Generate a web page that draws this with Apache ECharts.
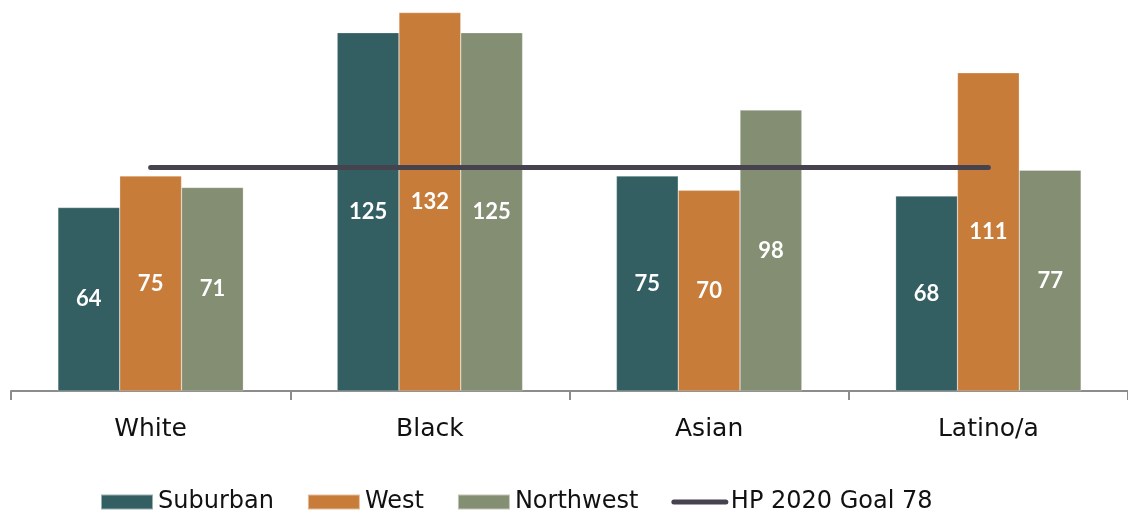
<!DOCTYPE html>
<html><head><meta charset="utf-8">
<script src="https://cdn.jsdelivr.net/npm/echarts@6/dist/echarts.min.js"></script>
<style>html,body{margin:0;padding:0;background:#fff}#c{width:1128px;height:516px}</style>
</head><body><div id="c"></div>
<script>
var categories = ['White', 'Black', 'Asian', 'Latino/a'];
var suburban = [64, 125, 75, 68];
var west = [75, 132, 70, 111];
var northwest = [71, 125, 98, 77];
var goal = [78, 78, 78, 78];
var seriesNames = ['Suburban', 'West', 'Northwest', 'HP 2020 Goal 78'];

var TEXTFONT = 'DejaVu Sans';
var LABELFONT = 'Lato';
var chart = echarts.init(document.getElementById('c'), null, {renderer: 'canvas'});
function barSeries(name, data, color) {
  return {
    name: name, type: 'bar', data: data, barGap: '0%', barCategoryGap: '33.6%',
    itemStyle: {color: color, borderColor: 'rgba(255,255,255,0.5)', borderWidth: 0.5},
    label: {show: true, position: 'inside', color: '#fff', fontFamily: LABELFONT, fontWeight: 'bold', fontSize: 22},
    emphasis: {disabled: true}
  };
}
chart.setOption({
  animation: false,
  grid: {left: 11, right: -3, top: 0, bottom: 125},
  xAxis: {
    type: 'category', data: categories,
    axisLine: {lineStyle: {color: '#8c8c8c', width: 2}},
    axisTick: {show: true, length: 9, lineStyle: {color: '#8c8c8c', width: 2}},
    axisLabel: {color: '#111', fontFamily: TEXTFONT, fontSize: 25, margin: 26}
  },
  yAxis: {type: 'value', min: 0, max: 136.4, show: false, splitLine: {show: false}},
  legend: {
    top: 490, left: 100, padding: 0, itemWidth: 52, itemHeight: 15, itemGap: 33,
    textStyle: {color: '#111', fontFamily: TEXTFONT, fontSize: 24},
    data: [
      {name: seriesNames[0], icon: 'rect'},
      {name: seriesNames[1], icon: 'rect'},
      {name: seriesNames[2], icon: 'rect'},
      {name: seriesNames[3], itemStyle: {opacity: 0},
       lineStyle: {width: 5, cap: 'round', color: '#46434f'}}
    ]
  },
  series: [
    barSeries(seriesNames[0], suburban, '#335f62'),
    barSeries(seriesNames[1], west, '#c77c3a'),
    barSeries(seriesNames[2], northwest, '#838e72'),
    {
      name: seriesNames[3], type: 'line', data: goal, symbol: 'none', z: 5,
      lineStyle: {color: '#46434f', width: 5, cap: 'round'},
      itemStyle: {color: '#46434f'},
      emphasis: {disabled: true}
    }
  ]
});
</script></body></html>
